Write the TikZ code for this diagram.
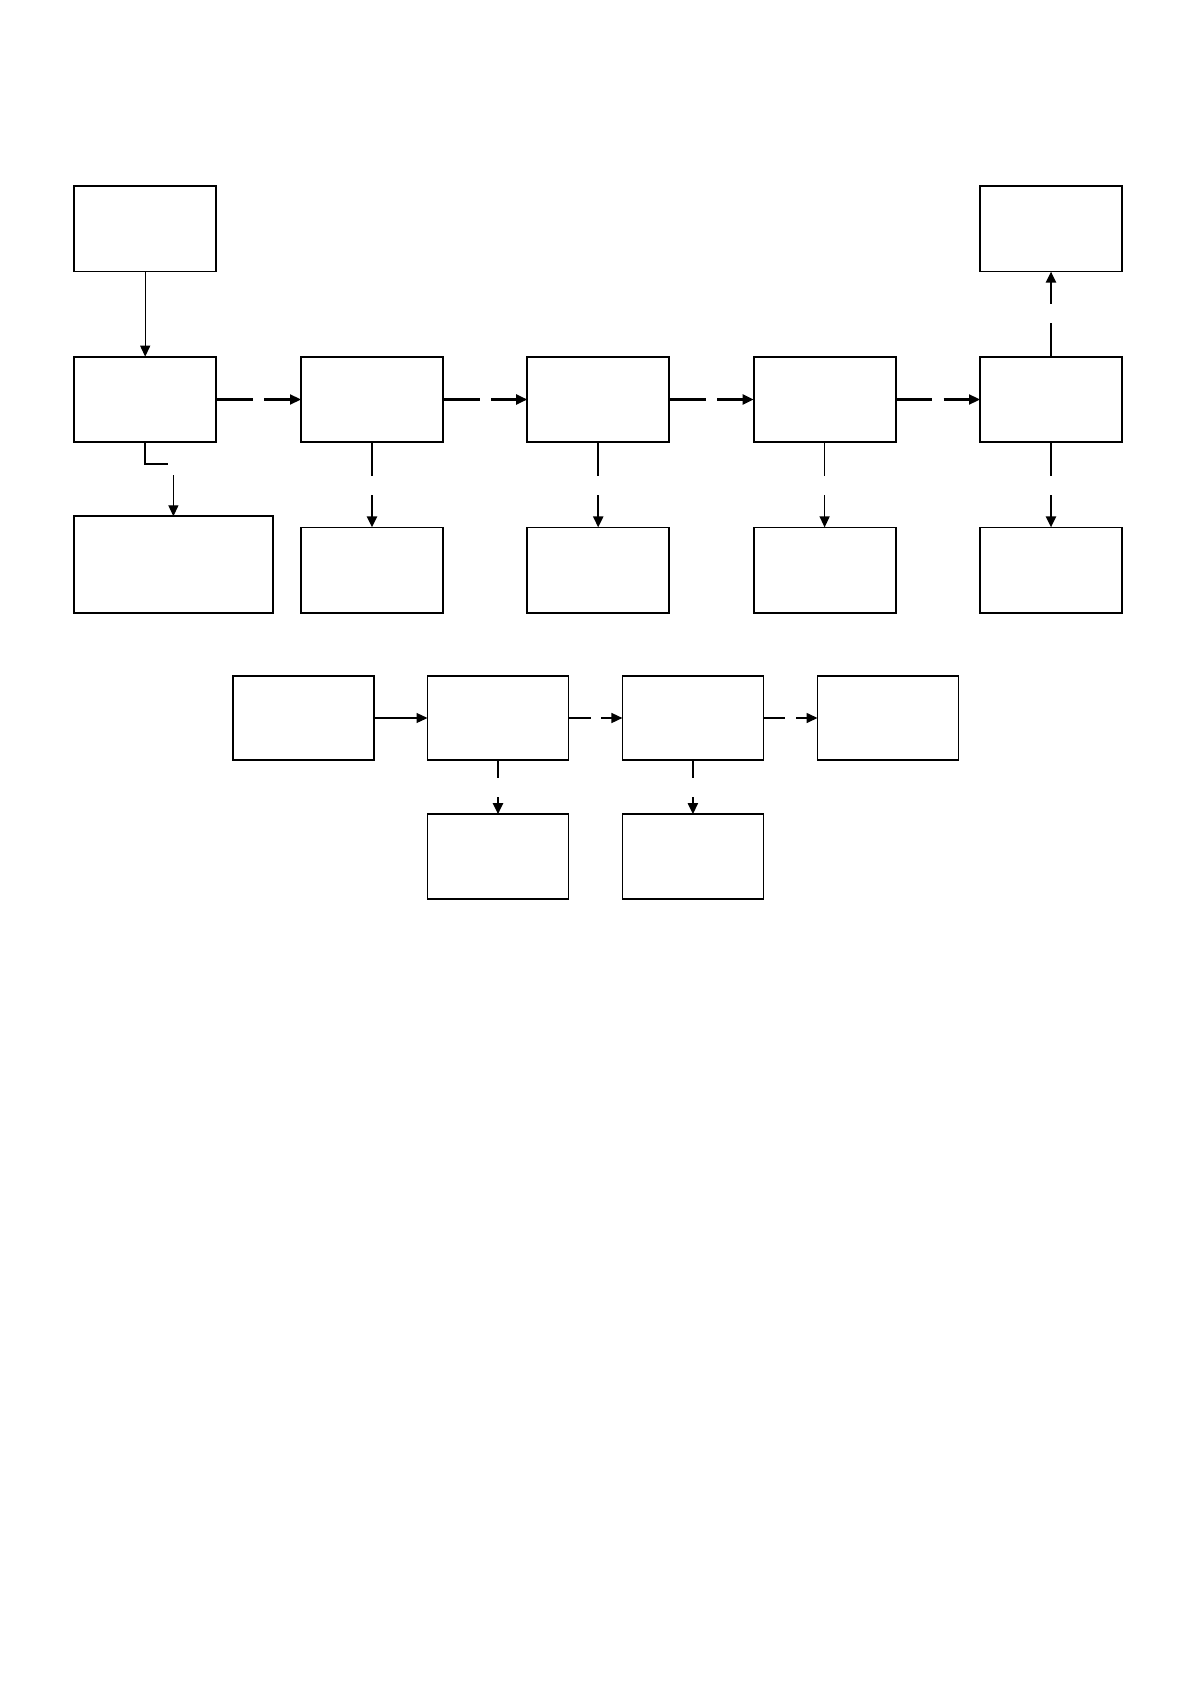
\documentclass[tikz,border=0pt]{standalone}
\usetikzlibrary{arrows.meta, positioning}
\begin{document}
\begin{tikzpicture}[x=0.5pt, y=-0.5pt,
    box/.style={draw, line width=0.9pt, inner sep=0pt, outer sep=0pt, minimum width=71pt, minimum height=42.8pt},
    lowbox/.style={box, minimum width=70.5pt, minimum height=42.3pt},
    tip/.style={-{Triangle[length=5.5pt, width=5pt]}},
    plain/.style={tip, line width=0.6pt},
    hop/.style={tip, line width=1.1pt, dash pattern=on 18.25pt off 5.75pt on 60pt},
    drop/.style={tip, line width=1.1pt, dash pattern=on 16.7pt off 9.7pt on 60pt},
    shorthop/.style={tip, line width=0.8pt, dash pattern=on 11pt off 5.3pt on 60pt},
    shortdrop/.style={tip, line width=1pt, dash pattern=on 8.7pt off 9.7pt on 60pt}]
  \useasboundingbox (0,0) rectangle (1191,1684);
  \node[box] (a1) at (145.2,228.8) {};
  \node[box] (a5) at (1051,228.8) {};
  \foreach \n/\x in {1/145.2,2/372,3/598.2,4/824.6,5/1051}
    \node[box] (s\n) at (\x,399.5) {};
  \node[box, minimum width=99.2pt, minimum height=48.4pt] (o1) at (173.4,564.7) {};
  \foreach \n/\x in {2/372,3/598.2,4/824.6,5/1051}
    \node[box] (o\n) at (\x,570.2) {};
  \foreach \n/\x in {1/303.1,2/498,3/692.9,4/888}
    \node[lowbox] (d\n) at (\x,718) {};
  \foreach \n/\x in {2/498,3/692.9}
    \node[lowbox] (e\n) at (\x,856.5) {};
  \draw[plain] (a1.south) -- (s1.north);
  \foreach \i/\j in {1/2,2/3,3/4,4/5}
    \draw[hop] (s\i.east) -- (s\j.west);
  \foreach \n in {2,3,5}
    \draw[drop] (s\n.south) -- (o\n.north);
  \draw[drop, line width=0.6pt] (s4.south) -- (o4.north);
  \draw[drop] (s5.north) -- (a5.south);
  \coordinate (k1) at (167.6,463.7);
  \coordinate (k2) at (173.4,475);
  \draw[line width=1pt] (s1.south) |- (k1);
  \draw[plain] (k2) -- (o1.north);
  \draw[plain] (d1.east) -- (d2.west);
  \foreach \i/\j in {2/3,3/4}
    \draw[shorthop] (d\i.east) -- (d\j.west);
  \foreach \n in {2,3}
    \draw[shortdrop] (d\n.south) -- (e\n.north);
\end{tikzpicture}
\end{document}
